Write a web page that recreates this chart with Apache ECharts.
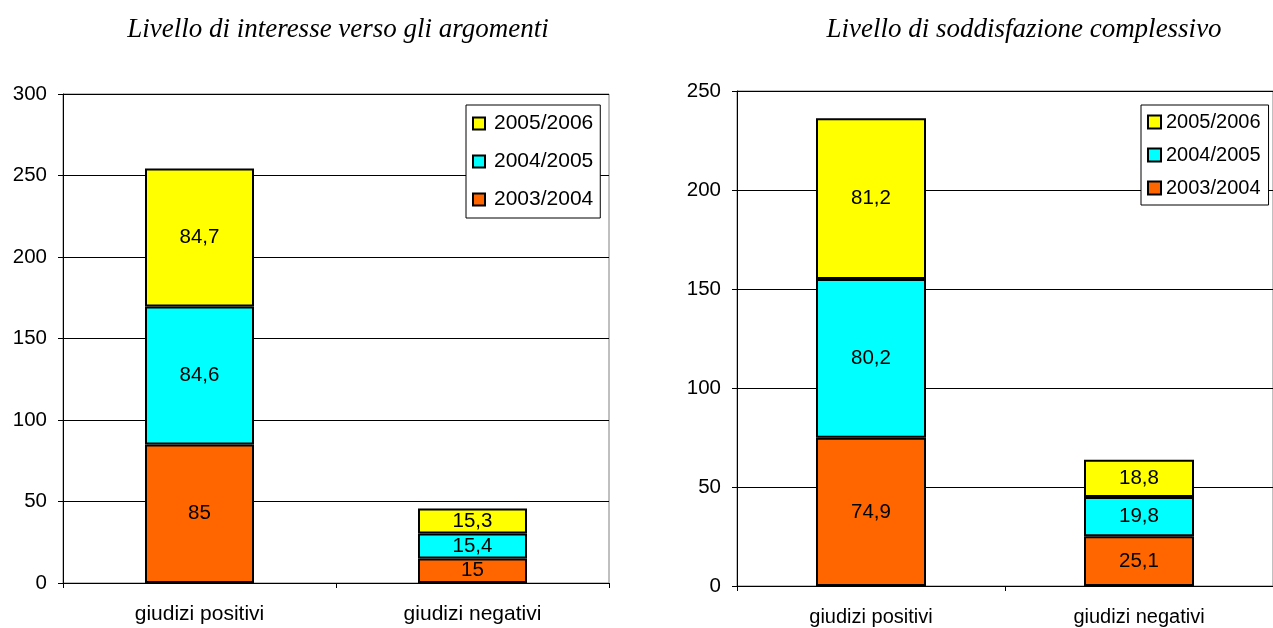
<!DOCTYPE html>
<html>
<head>
<meta charset="utf-8">
<script src="https://cdn.jsdelivr.net/npm/echarts@6/dist/echarts.min.js"></script>
<style>
html,body{margin:0;padding:0;background:#fff;}
#chart{width:1273px;height:628px;}
</style>
</head>
<body>
<div id="chart"></div>
<script>
const categories = ['giudizi positivi', 'giudizi negativi'];
const seriesNames = ['2005/2006', '2004/2005', '2003/2004'];
const titleLeft = 'Livello di interesse verso gli argomenti';
const titleRight = 'Livello di soddisfazione complessivo';

const interesse2003 = [85, 15];
const interesse2004 = [84.6, 15.4];
const interesse2005 = [84.7, 15.3];

const soddisf2003 = [74.9, 25.1];
const soddisf2004 = [80.2, 19.8];
const soddisf2005 = [81.2, 18.8];

const colors = {'2003/2004': '#FF6600', '2004/2005': '#00FFFF', '2005/2006': '#FFFF00'};
const FONT = 'Liberation Sans, Arial, sans-serif';
const SERIF = 'Liberation Serif, Times New Roman, serif';

function bar(name, data, idx, stack, bw) {
  return {
    name: name, type: 'bar', stack: stack, data: data,
    xAxisIndex: idx, yAxisIndex: idx, barWidth: bw,
    itemStyle: {color: colors[name], borderColor: '#000', borderWidth: 2},
    label: {show: true, position: 'inside', color: '#000', fontSize: 20.5, fontFamily: FONT,
      formatter: p => String(p.value).replace('.', ',')},
    emphasis: {disabled: true}
  };
}

function xAx(idx, fs, margin) {
  return {
    type: 'category', gridIndex: idx, data: categories,
    axisLine: {lineStyle: {color: '#000', width: 1}},
    axisTick: {show: true, length: 5, lineStyle: {color: '#000'}},
    axisLabel: {color: '#000', fontSize: fs, fontFamily: FONT, margin: margin}
  };
}
function yAx(idx, max) {
  return {
    type: 'value', gridIndex: idx, min: 0, max: max, interval: 50,
    axisLine: {show: true, lineStyle: {color: '#000', width: 1}},
    axisTick: {show: true, length: 5, lineStyle: {color: '#000'}},
    axisLabel: {color: '#000', fontSize: 20.5, fontFamily: FONT, margin: 16},
    splitLine: {show: true, lineStyle: {color: '#000', width: 1}}
  };
}

const chart = echarts.init(document.getElementById('chart'));
chart.setOption({
  animation: false,
  backgroundColor: '#fff',
  title: [
    {text: titleLeft, left: 338, top: 16, padding: 0, textAlign: 'center',
     textStyle: {fontFamily: SERIF, fontStyle: 'italic', fontWeight: 'normal', fontSize: 27, color: '#000'}},
    {text: titleRight, left: 1024, top: 16, padding: 0, textAlign: 'center',
     textStyle: {fontFamily: SERIF, fontStyle: 'italic', fontWeight: 'normal', fontSize: 27, color: '#000'}}
  ],
  legend: [
    {data: seriesNames, orient: 'vertical', left: 466, top: 105, icon: 'rect',
     itemWidth: 12, itemHeight: 12, itemGap: 17, padding: [8, 7, 8, 6],
     borderColor: '#000', borderWidth: 1, backgroundColor: '#fff',
     textStyle: {color: '#000', fontSize: 21, fontFamily: FONT, padding: [0, 0, 0, 4]},
     selectedMode: false},
    {data: seriesNames, orient: 'vertical', left: 1141, top: 105, icon: 'rect',
     itemWidth: 13, itemHeight: 13, itemGap: 13, padding: [7, 8, 7, 6],
     borderColor: '#000', borderWidth: 1, backgroundColor: '#fff',
     textStyle: {color: '#000', fontSize: 20, fontFamily: FONT, padding: [0, 0, 0, 0]},
     selectedMode: false}
  ],
  grid: [
    {left: 63, top: 94, width: 546, height: 489, show: true, borderColor: '#808080', borderWidth: 1, backgroundColor: '#fff'},
    {left: 737, top: 91, width: 546, height: 495, show: true, borderColor: '#808080', borderWidth: 1, backgroundColor: '#fff'}
  ],
  xAxis: [xAx(0, 21, 21), xAx(1, 20, 21)],
  yAxis: [yAx(0, 300), yAx(1, 250)],
  series: [
    bar('2003/2004', interesse2003, 0, 'a', 109),
    bar('2004/2005', interesse2004, 0, 'a', 109),
    bar('2005/2006', interesse2005, 0, 'a', 109),
    bar('2003/2004', soddisf2003, 1, 'b', 110),
    bar('2004/2005', soddisf2004, 1, 'b', 110),
    bar('2005/2006', soddisf2005, 1, 'b', 110)
  ]
});
</script>
</body>
</html>
